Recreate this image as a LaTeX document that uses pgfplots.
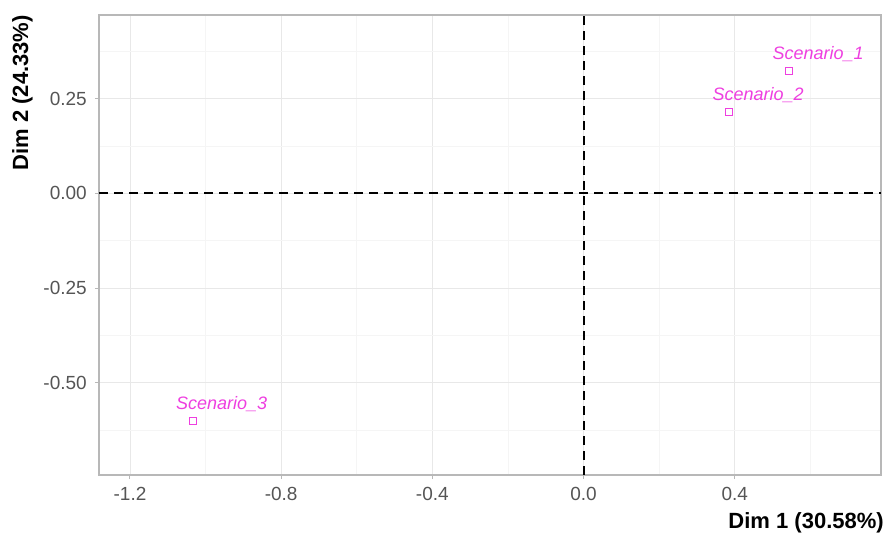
\documentclass[border=0pt]{standalone}
\usepackage{pgfplots}
\pgfplotsset{compat=1.18}
\usepackage{fontspec}
\setmainfont{Liberation Sans}
\definecolor{indcol}{HTML}{EE3FE0}
\definecolor{framecol}{HTML}{B8B8B8}
\definecolor{tickcol}{HTML}{555555}

\begin{document}
\begin{tikzpicture}
\begin{axis}[
    scale only axis,
    width=782pt, height=460pt,
    xmin=-1.282, xmax=0.787,
    ymin=-0.743, ymax=0.4705,
    xtick={-1.2,-0.8,-0.4,0,0.4},
    xticklabels={-1.2,-0.8,-0.4,0.0,0.4},
    ytick={-0.5,-0.25,0,0.25},
    yticklabels={-0.50,-0.25,0.00,0.25},
    minor xtick={-1.0,-0.6,-0.2,0.2,0.6},
    minor ytick={-0.625,-0.375,-0.125,0.125,0.375},
    xtick pos=bottom, ytick pos=left,
    grid=both,
    major grid style={draw=black!9, line width=0.9pt},
    minor grid style={draw=black!4, line width=0.6pt},
    axis line style={draw=framecol, line width=1.1pt},
    tick align=outside,
    major tick length=4pt,
    minor tick length=0pt,
    tick style={draw=framecol, line width=1pt},
    ticklabel style={font=\fontsize{19}{19}\selectfont, text=tickcol},
    xticklabel style={inner sep=0pt, anchor=north, yshift=-8pt},
    yticklabel style={inner sep=0pt, anchor=east, xshift=-8pt},
    xlabel={Dim 1 (30.58\%)},
    ylabel={Dim 2 (24.33\%)},
    label style={font=\bfseries\fontsize{22}{22}\selectfont, inner sep=0pt},
    x label style={at={(rel axis cs:1.0038,-0.0804)}, anchor=north east},
    y label style={at={(rel axis cs:-0.0844,1)}, anchor=south east},
    clip=false,
]
\addplot[black, line width=2pt, dash pattern=on 9pt off 6pt] coordinates {(-1.282,0) (0.787,0)};
\addplot[black, line width=2pt, dash pattern=on 9pt off 6pt] coordinates {(0,-0.743) (0,0.4705)};
\addplot[
    only marks,
    mark=square,
    mark size=3.5pt,
    mark options={draw=indcol, line width=1pt},
    point meta=explicit symbolic,
    nodes near coords,
    every node near coord/.append style={
        font=\itshape\fontsize{18}{18}\selectfont, text=indcol,
        anchor=base, inner sep=0pt, xshift=29pt, yshift=11pt},
] coordinates {
    (0.544,0.323) [Scenario\_1]
    (0.385,0.215) [Scenario\_2]
    (-1.034,-0.600) [Scenario\_3]
};
\coordinate (bl) at (rel axis cs:0,0);
\coordinate (tr) at (rel axis cs:1,1);
\end{axis}
\pgfresetboundingbox
\path ([shift={(-99pt,-58pt)}]bl) rectangle ([shift={(4pt,15pt)}]tr);
\end{tikzpicture}
\end{document}
